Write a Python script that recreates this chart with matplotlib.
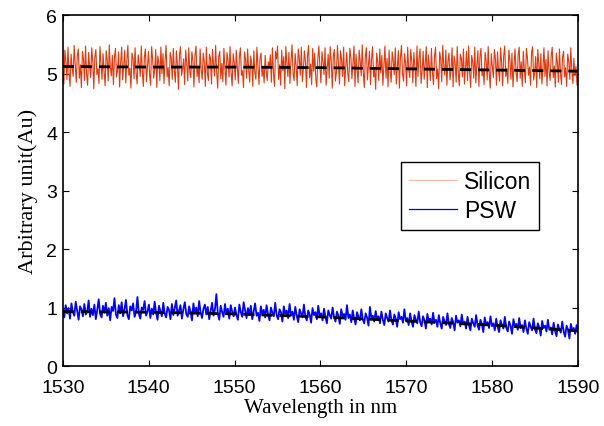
import numpy as np
import matplotlib
matplotlib.use("Agg")
import matplotlib.pyplot as plt

# Valores (senal con ruido), de 1530 a 1590 nm
silicon = [
    5.05, 4.82, 5.40, 5.21, 4.90, 5.45, 5.02, 4.78, 5.33, 5.10, 4.95, 5.48, 5.18, 4.85, 5.30, 5.42, 4.92, 5.15, 4.76, 5.38,
    5.25, 4.88, 5.47, 5.00, 4.80, 5.36, 5.12, 4.93, 5.44, 5.20, 4.74, 5.28, 5.41, 4.98, 5.08, 4.83, 5.46, 5.16, 4.90, 5.34,
    5.03, 4.79, 5.39, 5.23, 4.87, 5.49, 5.11, 4.96, 5.31, 4.81, 5.27, 5.43, 4.94, 5.06, 5.37, 4.77, 5.19, 5.45, 4.89, 5.14,
    5.40, 4.84, 5.22, 5.48, 4.97, 5.09, 4.75, 5.35, 5.26, 4.91, 5.44, 5.01, 4.82, 5.32, 5.17, 4.95, 5.47, 5.04, 4.78, 5.29,
    5.42, 4.86, 5.13, 5.38, 4.99, 4.80, 5.46, 5.24, 4.92, 5.07, 5.41, 4.76, 5.30, 5.19, 4.88, 5.45, 5.00, 5.34, 4.83, 5.21,
    5.48, 4.94, 5.10, 4.79, 5.36, 5.27, 4.90, 5.43, 5.05, 4.85, 5.39, 5.15, 4.73, 5.32, 5.46, 4.97, 5.08, 5.25, 4.81, 5.40,
    5.18, 4.87, 5.44, 5.02, 4.93, 5.37, 5.22, 4.77, 5.31, 5.47, 4.95, 5.12, 4.84, 5.42, 5.06, 4.90, 5.35, 5.20, 4.78, 5.45,
    5.01, 4.88, 5.33, 5.26, 4.82, 5.41, 5.14, 4.96, 5.48, 5.03, 4.75, 5.29, 5.38, 4.91, 5.17, 4.86, 5.43, 5.09, 4.80, 5.36,
    5.23, 4.94, 5.46, 5.00, 4.79, 5.34, 5.19, 4.89, 5.40, 5.11, 4.83, 5.28, 5.44, 4.97, 5.05, 4.76, 5.37, 5.24, 4.92, 5.42,
    5.07, 4.85, 5.30, 5.16, 4.78, 5.39, 5.02, 4.90, 5.45, 5.13, 4.81, 5.27, 5.35, 4.95, 5.10, 4.84, 5.31, 5.04, 4.88, 5.20,
    5.10, 5.32, 4.85, 5.44, 5.02, 4.78, 5.38, 5.25, 5.47, 4.90, 5.15, 4.80, 5.40, 5.05, 5.29, 4.74, 5.46, 5.18, 4.95, 5.36,
    4.83, 5.22, 5.49, 5.00, 4.88, 5.34, 5.12, 4.79, 5.42, 5.27, 4.97, 5.45, 4.86, 5.08, 5.39, 5.20, 4.76, 5.31, 5.48, 4.93,
    5.16, 4.81, 5.43, 5.04, 5.35, 4.90, 4.77, 5.26, 5.47, 5.11, 4.84, 5.37, 5.21, 4.98, 5.44, 4.80, 5.07, 5.33, 4.92, 5.46,
    5.19, 4.75, 5.30, 5.41, 4.87, 5.02, 5.48, 5.14, 4.82, 5.39, 5.24, 4.95, 5.45, 4.79, 5.10, 5.36, 5.00, 4.86, 5.43, 5.28,
    4.91, 5.17, 5.47, 4.78, 5.33, 5.06, 4.84, 5.40, 5.22, 4.96, 5.49, 5.03, 4.76, 5.29, 5.44, 4.89, 5.13, 5.38, 4.81, 5.25,
    5.46, 4.94, 5.09, 4.73, 5.35, 5.20, 4.88, 5.42, 5.01, 5.31, 4.80, 5.15, 5.47, 4.92, 5.26, 4.77, 5.40, 5.05, 4.85, 5.37,
    5.23, 4.98, 5.44, 4.82, 5.12, 5.39, 4.75, 5.28, 5.48, 5.00, 4.87, 5.34, 5.18, 4.79, 5.45, 5.07, 4.93, 5.41, 5.21, 4.84,
    5.36, 5.11, 4.78, 5.47, 4.95, 5.27, 5.42, 4.83, 5.04, 5.38, 4.90, 5.19, 5.46, 4.76, 5.32, 5.14, 4.88, 5.43, 5.02, 4.81,
    5.29, 5.45, 4.91, 5.08, 4.74, 5.37, 5.24, 4.86, 5.48, 5.13, 4.97, 5.40, 4.80, 5.21, 5.35, 4.89, 5.06, 5.44, 4.77, 5.30,
    5.17, 4.85, 5.46, 5.01, 4.79, 5.33, 5.26, 4.94, 5.42, 4.82, 5.10, 5.38, 4.88, 5.47, 5.03, 4.76, 5.31, 5.20, 4.92, 5.45,
    4.84, 5.15, 5.39, 4.78, 5.28, 5.43, 4.96, 5.07, 4.81, 5.36, 5.22, 4.89, 5.46, 5.00, 4.75, 5.34, 5.12, 4.93, 5.41, 5.25,
    4.80, 5.37, 5.05, 4.87, 5.44, 5.18, 4.79, 5.30, 5.47, 4.95, 5.09, 4.83, 5.40, 5.23, 4.90, 5.35, 4.77, 5.14, 5.42, 5.01,
    4.86, 5.32, 5.45, 4.92, 5.20, 4.78, 5.38, 5.06, 4.84, 5.43, 5.27, 4.97, 5.11, 4.80, 5.36, 5.46, 4.89, 5.02, 5.29, 4.76,
    5.41, 5.16, 4.91, 5.34, 4.82, 5.08, 5.44, 4.95, 5.24, 4.79, 5.39, 5.03, 4.88, 5.30, 5.45, 4.93, 5.13, 4.77, 5.35, 5.19,
    4.85, 5.42, 5.00, 4.81, 5.28, 5.38, 4.94, 5.10, 4.78, 5.33, 5.21, 4.90, 5.44, 5.04, 4.83, 5.26, 4.96, 5.12, 4.80, 5.00,
]

psw = [
    0.95, 0.83, 1.04, 0.90, 0.99, 0.81, 1.07, 0.92, 0.86, 1.10, 0.94, 0.79, 1.02, 0.97, 0.85, 1.06, 0.88, 0.93, 1.12, 0.84,
    0.98, 0.87, 1.05, 0.80, 0.96, 1.14, 0.89, 0.83, 1.03, 0.91, 1.08, 0.86, 0.99, 0.78, 1.01, 0.94, 1.16, 0.88, 0.82, 1.04,
    0.90, 1.09, 0.85, 0.97, 1.13, 0.87, 0.80, 1.02, 0.95, 1.07, 0.84, 0.92, 1.18, 0.89, 0.81, 1.00, 0.96, 1.11, 0.86, 0.93,
    1.05, 0.82, 0.98, 0.88, 1.10, 0.91, 0.79, 1.03, 0.94, 0.85, 1.08, 0.90, 0.83, 1.01, 0.96, 0.80, 1.06, 0.87, 0.99, 1.12,
    0.86, 0.95, 1.04, 0.81, 0.97, 1.09, 0.89, 0.84, 1.02, 0.93, 0.78, 1.07, 0.90, 1.00, 0.85, 1.11, 0.92, 0.82, 0.98, 1.05,
    0.88, 1.01, 0.80, 0.94, 1.08, 0.86, 0.97, 1.23, 0.90, 0.79, 1.03, 0.92, 0.84, 1.06, 0.89, 0.98, 0.81, 1.04, 0.93, 0.85,
    1.00, 0.87, 0.79, 1.05, 0.92, 0.84, 1.09, 0.95, 0.82, 0.99, 0.88, 1.03, 0.80, 0.94, 1.07, 0.86, 0.91, 0.77, 1.02, 0.89,
    0.96, 0.83, 1.04, 0.88, 0.78, 1.00, 0.91, 0.85, 1.08, 0.87, 0.80, 0.97, 0.92, 0.76, 1.02, 0.89, 0.95, 0.82, 1.06, 0.86,
    0.93, 0.79, 1.01, 0.86, 0.75, 0.97, 0.90, 0.83, 1.05, 0.84, 0.78, 0.95, 0.88, 0.74, 0.99, 0.87, 0.92, 0.80, 1.03, 0.85,
    0.90, 0.78, 0.98, 0.84, 0.73, 0.95, 0.87, 0.81, 1.00, 0.83, 0.76, 0.93, 0.86, 0.72, 0.97, 0.85, 0.89, 0.79, 1.04, 0.82,
    0.88, 0.75, 0.95, 0.81, 0.71, 0.92, 0.84, 0.78, 0.97, 0.80, 0.73, 0.90, 0.83, 0.69, 1.01, 0.82, 0.86, 0.76, 0.94, 0.79,
    0.85, 0.73, 0.93, 0.79, 0.70, 0.90, 0.82, 0.76, 0.95, 0.78, 0.71, 0.88, 0.81, 0.67, 0.92, 0.80, 0.84, 0.74, 0.97, 0.77,
    0.82, 0.70, 0.90, 0.76, 0.67, 0.87, 0.79, 0.73, 0.93, 0.75, 0.68, 0.85, 0.78, 0.64, 0.89, 0.77, 0.81, 0.71, 0.91, 0.74,
    0.79, 0.67, 0.87, 0.73, 0.64, 0.84, 0.76, 0.70, 0.90, 0.72, 0.65, 0.82, 0.75, 0.61, 0.86, 0.74, 0.78, 0.68, 0.88, 0.71,
    0.76, 0.64, 0.84, 0.70, 0.61, 0.81, 0.73, 0.67, 0.87, 0.69, 0.62, 0.79, 0.72, 0.58, 0.83, 0.71, 0.75, 0.65, 0.85, 0.68,
    0.73, 0.61, 0.81, 0.67, 0.58, 0.78, 0.70, 0.64, 0.84, 0.66, 0.59, 0.76, 0.69, 0.55, 0.80, 0.68, 0.72, 0.62, 0.82, 0.65,
    0.70, 0.58, 0.78, 0.64, 0.55, 0.75, 0.67, 0.61, 0.81, 0.63, 0.56, 0.73, 0.66, 0.52, 0.77, 0.65, 0.69, 0.59, 0.79, 0.62,
    0.66, 0.54, 0.74, 0.60, 0.51, 0.71, 0.63, 0.57, 0.76, 0.59, 0.50, 0.69, 0.62, 0.47, 0.72, 0.61, 0.65, 0.55, 0.70, 0.58,
]

# Lineas de tendencia (punteadas)
trend_x = [1530, 1540, 1550, 1560, 1570, 1580, 1590]
silicon_trend = [5.12, 5.11, 5.11, 5.10, 5.08, 5.06, 5.04]
psw_trend = [0.93, 0.92, 0.89, 0.84, 0.77, 0.70, 0.60]

x_si = np.linspace(1530, 1590, len(silicon))
x_psw = np.linspace(1530, 1590, len(psw))

fig = plt.figure(figsize=(6.04, 4.27), dpi=100)
ax = fig.add_axes([0.104, 0.1405, 0.853, 0.822])

ax.plot(x_si, silicon, color="#e03a10", lw=0.8, label="Silicon")
ax.plot(x_psw, psw, color="#0000ff", lw=1.3, label="PSW")
ax.plot(trend_x, silicon_trend, "k--", lw=2, dashes=(4, 2.5))
ax.plot(trend_x, psw_trend, "k--", lw=2, dashes=(4, 2.5))

ax.set_xlim(1530, 1590)
ax.set_ylim(0, 6)
ax.set_xticks(range(1530, 1591, 10))
ax.set_yticks(range(0, 7))
ax.tick_params(direction="in", top=True, right=True, length=4, labelsize=14)
ax.tick_params(axis="x", pad=9)
ax.tick_params(axis="y", pad=4)
for lab in ax.get_xticklabels() + ax.get_yticklabels():
    lab.set_family("Liberation Sans")
for s in ax.spines.values():
    s.set_linewidth(1.2)

ax.set_xlabel("Wavelength in nm", family="Liberation Serif", fontsize=15, labelpad=2)
ax.set_ylabel("Arbitrary unit(Au)", family="Liberation Serif", fontsize=16, labelpad=6)

leg = ax.legend(loc="upper left", bbox_to_anchor=(0.656, 0.581),
                prop={"family": "Liberation Sans", "size": 16.5}, fancybox=False,
                edgecolor="black", framealpha=1, handlelength=2.1, borderaxespad=0,
                borderpad=0.35, labelspacing=0.25, handletextpad=0.3)
leg.get_frame().set_linewidth(1.0)
leg.get_lines()[0].set_alpha(0.35)
leg.get_lines()[1].set_linewidth(0.9)
leg.get_lines()[1].set_color("#0000cc")

fig.savefig("out.png", dpi=100)
